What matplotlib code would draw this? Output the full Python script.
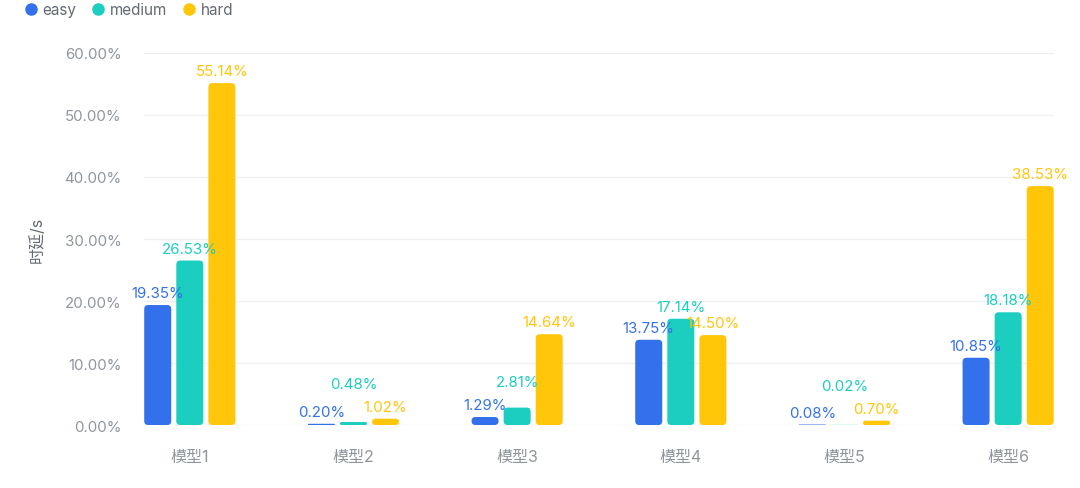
import matplotlib
matplotlib.use("Agg")
import matplotlib.pyplot as plt
from matplotlib.patches import FancyBboxPatch
from matplotlib.lines import Line2D
import numpy as np

plt.rcParams['font.family'] = ['Inter', 'Noto Sans CJK SC', 'DejaVu Sans']

# --- データ ---
categories = ["模型1", "模型2", "模型3", "模型4", "模型5", "模型6"]
series_names = ["easy", "medium", "hard"]
easy = [19.35, 0.20, 1.29, 13.75, 0.08, 10.85]
medium = [26.53, 0.48, 2.81, 17.14, 0.02, 18.18]
hard = [55.14, 1.02, 14.64, 14.50, 0.70, 38.53]
y_ticks = [0, 10, 20, 30, 40, 50, 60]
y_label = "时延/s"

colors = ["#3370EB", "#1BCEBF", "#FFC60A"]
tick_color = "#8F959E"
fs = 10.8

fig = plt.figure(figsize=(10.8, 4.89), dpi=100)
ax = fig.add_axes([0.1333, 0.1288, 0.8426, 0.7608])

x = np.arange(len(categories))
bar_w = 0.165
step = 0.196
values = [easy, medium, hard]

# 角丸の半径（ピクセル換算）
px_x = 5.56 / (0.8426 * 1080)
px_y = 60.0 / (0.7608 * 489)
radius_px = 4.0

labels = []
for i, (name, vals) in enumerate(zip(series_names, values)):
    offs = (i - 1) * step
    bars = ax.bar(x + offs, vals, width=bar_w, color=colors[i], alpha=0)
    for b, v in zip(bars, vals):
        bx, by = b.get_x(), b.get_y()
        bw, bh = b.get_width(), b.get_height()
        r = min(radius_px, bh / px_y / 2, bw / px_x / 2)
        patch = FancyBboxPatch(
            (bx, by), bw, bh,
            boxstyle=f"round,pad=0,rounding_size={r * px_x}",
            mutation_aspect=px_y / px_x,
            facecolor=colors[i], edgecolor="none", zorder=3,
        )
        ax.add_patch(patch)
        t = ax.annotate(f"{v:.2f}%", (b.get_x() + bw / 2, v),
                        xytext=(0, 3.5), textcoords="offset points",
                        ha="center", va="bottom", fontsize=fs,
                        color=colors[i], zorder=5)
        labels.append((i, t))

ax.set_xlim(-0.28, len(categories) - 1 + 0.28)
ax.set_ylim(0, 60)
ax.set_yticks(y_ticks)
ax.set_yticklabels([f"{v:.2f}%" for v in y_ticks])
ax.set_xticks(x)
ax.set_xticklabels(categories)
ax.tick_params(axis="y", length=0, pad=16, labelsize=fs, colors=tick_color)
ax.tick_params(axis="x", length=0, pad=17, labelsize=11.5, colors=tick_color)
for s in ax.spines.values():
    s.set_visible(False)
ax.grid(axis="y", color="#EFF0F1", linewidth=1)
ax.set_axisbelow(True)
ax.set_ylabel(y_label, color="#646A73", fontsize=11.5, labelpad=14)

# ラベル重なり回避（外側→中央の順に配置）
fig.canvas.draw()
renderer = fig.canvas.get_renderer()
order = [0, 2, 1]
n = len(categories)
placed = []
for s in order:
    for j in range(n):
        t = labels[s * n + j][1]
        bb = t.get_window_extent(renderer)
        shift = 0
        for pb in placed:
            if bb.x1 > pb.x0 and bb.x0 < pb.x1 and bb.y0 < pb.y1 and bb.y1 > pb.y0:
                shift = max(shift, pb.y1 - bb.y0 + 9)
        if shift > 0:
            ox, oy = t.xyann
            t.xyann = (ox, oy + shift * 72 / fig.dpi)
            bb = t.get_window_extent(renderer)
        placed.append(bb)

handles = [Line2D([0], [0], marker="o", linestyle="none", markersize=8,
                  markerfacecolor=c, markeredgecolor=c) for c in colors]
fig.legend(handles, series_names, loc="upper left", bbox_to_anchor=(0.0095, 1.021),
           ncol=3, frameon=False, fontsize=11, handlelength=0.9,
           handletextpad=0.3, columnspacing=1.0, labelcolor="#646A73")

plt.savefig("out.png", dpi=100)
